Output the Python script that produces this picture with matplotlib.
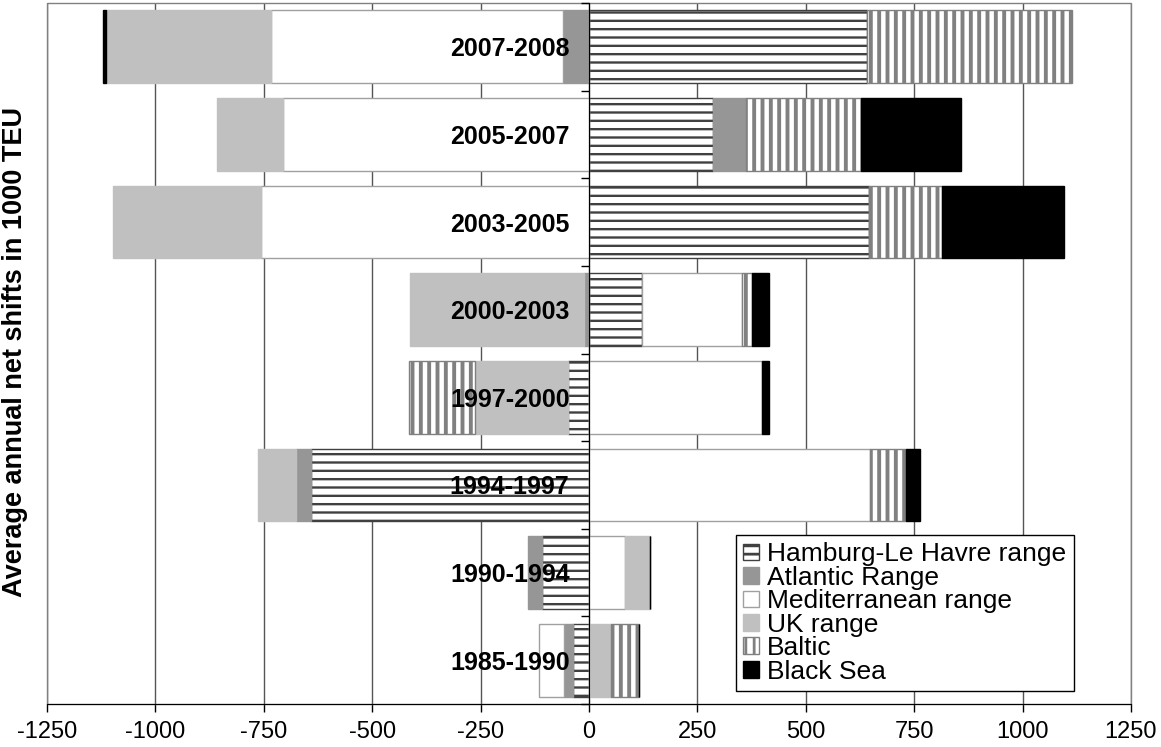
import numpy as np
import matplotlib
matplotlib.use("Agg")
import matplotlib.pyplot as plt
from matplotlib.patches import Rectangle

#Data (1000 TEU, average annual net shifts), bottom to top
periods = ["1985-1990", "1990-1994", "1994-1997", "1997-2000",
           "2000-2003", "2003-2005", "2005-2007", "2007-2008"]
hamburg = [-38, -109, -642, -48, 123, 645, 286, 641]
atlantic = [-19, -31, -34, 0, -12, 0, 76, -60]
mediterranean = [-59, 82, 648, 400, 229, -757, -706, -674]
uk = [50, 58, -87, -214, -400, -340, -153, -381]
baltic = [65, 0, 83, -153, 25, 169, 266, 473]
black_sea = [0, 0, 32, 14, 37, 281, 230, -5]

series_names = ["Hamburg-Le Havre range", "Atlantic Range", "Mediterranean range",
                "UK range", "Baltic", "Black Sea"]
series_values = [hamburg, atlantic, mediterranean, uk, baltic, black_sea]
#facecolor, edgecolor, hatch, hatch linewidth
series_styles = [("white", "#404040", "--", 1.7),
                 ("#969696", "#969696", None, 1.0),
                 ("white", "#a0a0a0", None, 1.0),
                 ("#c0c0c0", "#c0c0c0", None, 1.0),
                 ("white", "#808080", "||", 2.8),
                 ("black", "black", None, 1.0)]

plt.rcParams["font.family"] = ["Liberation Sans", "DejaVu Sans"]
plt.rcParams["axes.unicode_minus"] = False
plt.rcParams["hatch.linewidth"] = 2.0

fig = plt.figure(figsize=(11.61, 7.47), dpi=100)
ax = fig.add_axes([47 / 1161, 43 / 747, 1084 / 1161, 701 / 747])

ypos = np.arange(len(periods))
posLeft = np.zeros(len(periods))
negLeft = np.zeros(len(periods))

#stack positive and negative parts separately, in series order
for name, vals, style in zip(series_names, series_values, series_styles):
    vals = np.array(vals, dtype=float)
    left = np.where(vals >= 0, posLeft, negLeft)
    face, edge, hatch, hlw = style
    bars = ax.barh(ypos, vals, left=left, height=0.83, color=face, edgecolor=edge,
                   hatch=hatch, linewidth=1, label=name)
    #per series hatch width if this matplotlib has it
    for p in bars:
        if hasattr(p, "set_hatch_linewidth"):
            p.set_hatch_linewidth(hlw)
    posLeft = posLeft + np.where(vals > 0, vals, 0)
    negLeft = negLeft + np.where(vals < 0, vals, 0)

ax.set_xlim(-1250, 1250)
ax.set_ylim(-0.5, len(periods) - 0.5)

#x axis
ax.set_xticks(np.arange(-1250, 1251, 250))
ax.tick_params(axis="x", direction="out", length=6, width=1, pad=6, labelsize=17)
ax.xaxis.grid(True, color="#555555", linewidth=1)
ax.set_axisbelow(True)

#y axis sits on zero, labels between tick marks
ax.spines["left"].set_position(("data", 0))
ax.spines["left"].set_color("black")
ax.spines["bottom"].set_color("black")
ax.spines["top"].set_visible(False)
ax.spines["right"].set_visible(False)
ax.set_yticks(np.arange(-0.5, len(periods), 1.0))
ax.set_yticklabels([])
ax.set_yticks(ypos, minor=True)
ax.set_yticklabels(periods, minor=True, fontweight="bold", fontsize=18)
ax.tick_params(axis="y", which="major", direction="out", length=6, width=1)
ax.tick_params(axis="y", which="minor", length=0, pad=14)
#labels have to sit on top of the bars
ax.yaxis.set_zorder(3)

#grey plot area frame
ax.add_patch(Rectangle((0, 0), 1, 1, transform=ax.transAxes, fill=False,
                       edgecolor="#808080", linewidth=1, clip_on=False, zorder=0.6))

fig.text(0.013, 0.529, "Average annual net shifts in 1000 TEU", rotation=90,
         ha="center", va="center", fontsize=19.5, fontweight="bold")

leg = ax.legend(loc="lower left", bbox_to_anchor=(0.6356, 0.0185), borderaxespad=0,
                fontsize=19, frameon=True, fancybox=False, framealpha=1,
                edgecolor="black", handlelength=0.6, handleheight=0.6,
                handletextpad=0.3, labelspacing=-0.02, borderpad=0.28)
leg.get_frame().set_linewidth(1)
leg.set_zorder(4)

fig.savefig("out.png", dpi=100)
